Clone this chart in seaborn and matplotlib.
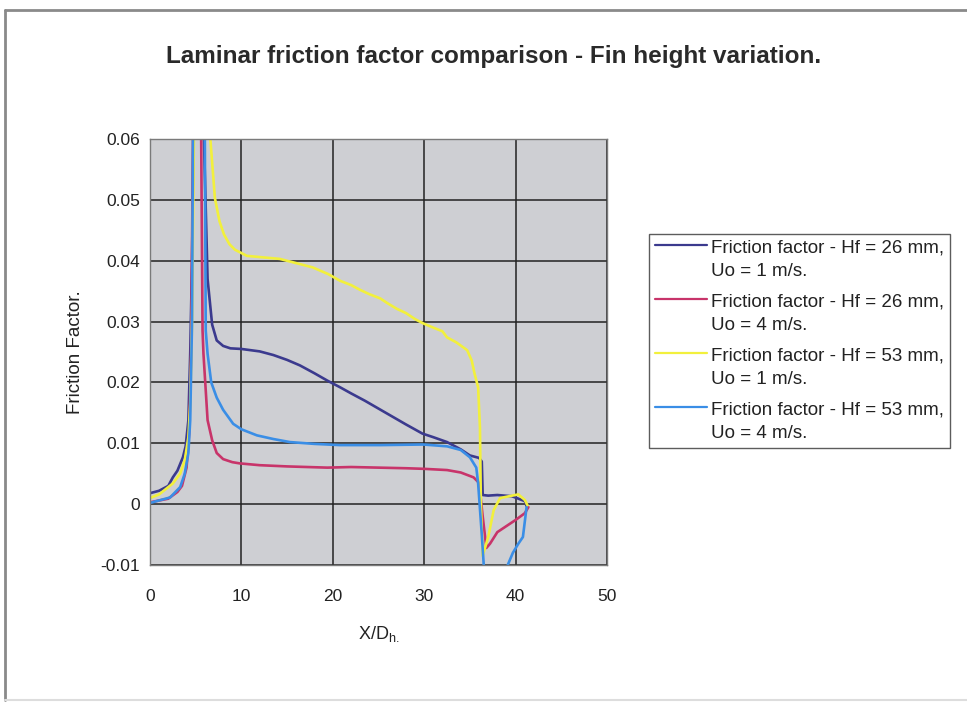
import numpy as np
import pandas as pd
import matplotlib
matplotlib.use("Agg")
import matplotlib.pyplot as plt
import seaborn as sns
from matplotlib.legend_handler import HandlerLine2D
from matplotlib.lines import Line2D

# Friction factor along the channel (X/Dh) for two fin heights and two inlet velocities
x_26_1 = [0, 1, 2, 2.5, 3, 3.6, 3.9, 4.2, 4.4, 4.6, 4.75, 5.2, 5.9, 6.3, 6.8, 7.3, 8.0, 8.8, 10, 11, 12,
          13.5, 15, 16.4, 18, 19.4, 20.8, 22, 23.5, 25, 26.5, 28, 29.8, 31, 32.5, 34, 35, 36, 36.3,
          36.4, 37, 38, 39.6, 41, 41.2]
f_26_1 = [0.0018, 0.0022, 0.003, 0.0044, 0.0055, 0.0077, 0.0095, 0.0138, 0.0247, 0.04, 0.06, 0.085,
          0.06, 0.037, 0.0295, 0.0269, 0.026, 0.0256, 0.0255, 0.0253, 0.0251, 0.0245, 0.0237, 0.0228,
          0.0215, 0.0203, 0.0192, 0.0182, 0.017, 0.0157, 0.0144, 0.0131, 0.0116, 0.011, 0.0102, 0.009,
          0.008, 0.0076, 0.007, 0.0015, 0.0014, 0.0015, 0.0013, 0.0005, -0.0003]

x_26_4 = [0, 2, 3, 3.5, 4, 4.3, 4.5, 4.7, 5.1, 5.6, 5.75, 5.85, 6.3, 6.8, 7.3, 8, 9, 9.8, 12, 15,
          19.4, 22, 25, 28, 30, 32.5, 34, 35.4, 36, 36.4, 36.8, 37.2, 38, 39, 40, 41, 41.4]
f_26_4 = [0.0003, 0.0009, 0.002, 0.003, 0.006, 0.012, 0.025, 0.06, 0.085, 0.06, 0.0285, 0.0247,
          0.0138, 0.0105, 0.0084, 0.0074, 0.0069, 0.0067, 0.0064, 0.0062, 0.006, 0.0061, 0.006, 0.0059,
          0.0058, 0.0056, 0.0052, 0.0044, 0.0035, -0.002, -0.0072, -0.0065, -0.0046, -0.0036, -0.0026,
          -0.0015, -0.0005]

x_53_1 = [0, 1, 2.5, 3.3, 3.8, 4.2, 4.4, 4.6, 4.8, 5.6, 6.6, 7.1, 7.6, 8.1, 8.7, 9.3, 10.6, 12, 14.2,
          16, 17.8, 19.5, 20.8, 22, 23, 24, 25.2, 26, 27, 28, 29, 29.9, 31, 32, 32.5, 33.5, 34.7, 35.2,
          35.5, 35.9, 36.1, 36.2, 36.4, 37, 37.6, 38.3, 40.3, 41, 41.3]
f_53_1 = [0.001, 0.0016, 0.0034, 0.005, 0.0072, 0.011, 0.0165, 0.03, 0.06, 0.09, 0.06, 0.0503, 0.0465,
          0.0443, 0.0427, 0.0418, 0.0408, 0.0406, 0.0403, 0.0396, 0.0389, 0.0378, 0.0367, 0.036, 0.0352,
          0.0345, 0.0338, 0.033, 0.0321, 0.0314, 0.0304, 0.0297, 0.029, 0.0284, 0.0274, 0.0266, 0.0253,
          0.0236, 0.0215, 0.0192, 0.0126, 0.0, -0.0085, -0.0054, -0.001, 0.001, 0.0016, 0.0007, -0.0002]

x_53_4 = [0, 2.2, 3.3, 3.8, 4.2, 4.4, 4.6, 4.7, 5.3, 6.0, 6.1, 6.3, 6.7, 7.3, 8, 9.1, 10, 11.7, 13.5,
          15.3, 18, 20.8, 25.2, 29.9, 32.5, 34, 35, 35.7, 35.9, 36.3, 36.6, 38, 39.0, 39.7, 40.3, 40.8,
          41.2]
f_53_4 = [0.0002, 0.0011, 0.0028, 0.005, 0.0084, 0.0138, 0.03, 0.06, 0.085, 0.06, 0.0285, 0.0247, 0.02,
          0.0175, 0.0155, 0.0132, 0.0123, 0.0113, 0.0107, 0.0102, 0.0099, 0.0097, 0.0097, 0.0098, 0.0095,
          0.0089, 0.0077, 0.006, 0.0034, -0.005, -0.012, -0.014, -0.0105, -0.008, -0.0065, -0.0054,
          -0.0005]

series_labels = [
    "Friction factor - Hf = 26 mm,\nUo = 1 m/s.",
    "Friction factor - Hf = 26 mm,\nUo = 4 m/s.",
    "Friction factor - Hf = 53 mm,\nUo = 1 m/s.",
    "Friction factor - Hf = 53 mm,\nUo = 4 m/s.",
]
series_colors = ["#3b3a8e", "#c8346a", "#f2f03c", "#3a8ee6"]

x_ticks = [0, 10, 20, 30, 40, 50]
y_ticks = [-0.01, 0, 0.01, 0.02, 0.03, 0.04, 0.05, 0.06]
y_tick_labels = ["-0.01", "0", "0.01", "0.02", "0.03", "0.04", "0.05", "0.06"]

frames = []
for xs, fs, lab in zip([x_26_1, x_26_4, x_53_1, x_53_4],
                       [f_26_1, f_26_4, f_53_1, f_53_4], series_labels):
    frames.append(pd.DataFrame({"x": xs, "f": fs, "series": lab}))
df = pd.concat(frames, ignore_index=True)

sns.set_theme(style="white")
plt.rcParams["font.family"] = ["Liberation Sans", "DejaVu Sans"]
plt.rcParams["mathtext.default"] = "regular"

fig = plt.figure(figsize=(9.67, 7.05), dpi=100)
ax = fig.add_axes([150 / 967, 1 - 565 / 705, (607 - 150) / 967, (565 - 139) / 705])
ax.set_facecolor("#cecfd3")

sns.lineplot(data=df, x="x", y="f", hue="series", hue_order=series_labels,
             palette=series_colors, sort=False, estimator=None, units="series",
             linewidth=1.9, ax=ax, legend=False)

ax.set_xlim(0, 50)
ax.set_ylim(-0.01, 0.06)
ax.set_xticks(x_ticks)
ax.set_xticklabels([str(t) for t in x_ticks])
ax.set_yticks(y_ticks)
ax.set_yticklabels(y_tick_labels)
ax.grid(True, color="#222222", linewidth=1.1)
ax.set_axisbelow(True)
for sp in ax.spines.values():
    sp.set_color("#7a7a7a")
    sp.set_linewidth(1.0)
ax.tick_params(axis="both", direction="out", length=4, width=1, color="#555555",
               labelsize=12.5, labelcolor="#222222")
ax.tick_params(axis="x", pad=13)
ax.tick_params(axis="y", pad=3)

ax.set_xlabel("X/D$_{h.}$", fontsize=13, color="#222222", labelpad=15)
ax.set_ylabel("Friction Factor.", fontsize=13.5, color="#222222", labelpad=12)

fig.text(494 / 967, 1 - 57 / 705, "Laminar friction factor comparison - Fin height variation.",
         ha="center", va="center", fontsize=17.5, fontweight="bold", color="#2a2a2a")


class FirstLineHandler(HandlerLine2D):
    """Place the legend line beside the first line of a two-line label."""
    shift = 10.8

    def create_artists(self, legend, orig_handle, xdescent, ydescent, width, height, fontsize, trans):
        artists = super().create_artists(legend, orig_handle, xdescent, ydescent, width, height,
                                         fontsize, trans)
        for a in artists:
            a.set_ydata(np.asarray(a.get_ydata(), dtype=float) + self.shift)
        return artists


leg_handles = [Line2D([], [], color=c, linewidth=1.6) for c in series_colors]
leg = fig.legend(leg_handles, series_labels, loc="upper left",
                 bbox_to_anchor=(649 / 967, 1 - 234 / 705),
                 frameon=True, fancybox=False, fontsize=13.5, handlelength=2.8,
                 handletextpad=0.2, borderpad=0.3, labelspacing=0.72, borderaxespad=0,
                 handler_map={Line2D: FirstLineHandler()})
leg.get_frame().set_edgecolor("#333333")
leg.get_frame().set_linewidth(1.0)
for t in leg.get_texts():
    t.set_color("#222222")
    t.set_linespacing(1.5)

# chart area frame
fig.add_artist(Line2D([5 / 967, 1], [1 - 10 / 705, 1 - 10 / 705], transform=fig.transFigure,
                      color="#8a8a8a", linewidth=2))
fig.add_artist(Line2D([5 / 967, 5 / 967], [1 - 10 / 705, 1 - 700 / 705], transform=fig.transFigure,
                      color="#8a8a8a", linewidth=2))
fig.add_artist(Line2D([5 / 967, 1], [1 - 700 / 705, 1 - 700 / 705], transform=fig.transFigure,
                      color="#dddddd", linewidth=1.5))

fig.savefig("out.png", dpi=100)
